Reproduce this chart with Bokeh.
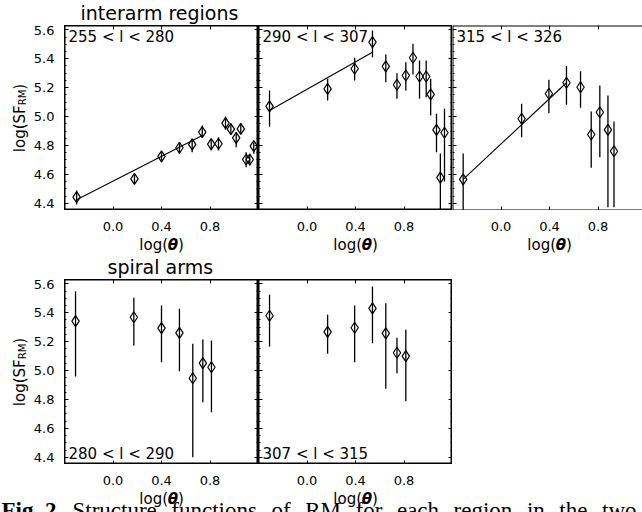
import math
from bokeh.plotting import figure
from bokeh.models import (Range1d, LinearAxis, FixedTicker, Label, PrintfTickFormatter,
                          CustomJSTickFormatter, ColumnDataSource)
from bokeh.layouts import column, row
from bokeh.embed import file_html
from bokeh.resources import INLINE

# ---------------- data ----------------
# interarm 255 < l < 280
x1 = [-0.30, 0.177, 0.40, 0.548, 0.653, 0.736, 0.81, 0.87, 0.928, 0.972, 1.016, 1.054, 1.098, 1.128, 1.161]
y1 = [4.442, 4.569, 4.724, 4.784, 4.807, 4.892, 4.809, 4.812, 4.954, 4.913, 4.853, 4.915, 4.703, 4.703, 4.795]
lo1 = [4.392, 4.535, 4.684, 4.742, 4.753, 4.853, 4.765, 4.765, 4.908, 4.88, 4.788, 4.88, 4.65, 4.661, 4.742]
hi1 = [4.488, 4.604, 4.753, 4.823, 4.846, 4.938, 4.846, 4.857, 5.0, 4.95, 4.892, 4.95, 4.753, 4.742, 4.823]
fit1_x = [-0.30, 0.736]
fit1_y = [4.424, 4.869]

# interarm 290 < l < 307
x2 = [-0.309, 0.17, 0.393, 0.54, 0.65, 0.742, 0.815, 0.874, 0.928, 0.983, 1.02, 1.068, 1.10, 1.134]
y2 = [5.07, 5.192, 5.331, 5.515, 5.347, 5.22, 5.284, 5.407, 5.277, 5.277, 5.153, 4.908, 4.578, 4.888]
lo2 = [4.93, 5.111, 5.25, 5.411, 5.238, 5.123, 5.18, 5.291, 5.123, 5.134, 5.007, 4.753, 4.30, 4.55]
hi2 = [5.18, 5.261, 5.407, 5.596, 5.43, 5.30, 5.376, 5.504, 5.388, 5.388, 5.261, 5.019, 4.744, 5.054]
fit2_x = [-0.309, 0.54]
fit2_y = [5.042, 5.445]

# interarm 315 < l < 326
x3 = [-0.312, 0.17, 0.395, 0.54, 0.656, 0.744, 0.815, 0.882, 0.932]
y3 = [4.565, 4.985, 5.158, 5.234, 5.203, 4.876, 5.03, 4.908, 4.76]
lo3 = [4.30, 4.857, 5.023, 5.082, 5.061, 4.646, 4.719, 4.373, 4.373]
hi3 = [4.744, 5.088, 5.254, 5.349, 5.314, 5.035, 5.215, 5.146, 4.966]
fit3_x = [-0.312, 0.54]
fit3_y = [4.565, 5.234]

# spiral arm 280 < l < 290
x4 = [-0.309, 0.172, 0.40, 0.548, 0.658, 0.741, 0.812]
y4 = [5.342, 5.369, 5.293, 5.261, 4.947, 5.051, 5.023]
lo4 = [4.959, 5.173, 5.058, 4.996, 4.40, 4.781, 4.712]
hi4 = [5.549, 5.504, 5.45, 5.427, 5.185, 5.215, 5.208]

# spiral arm 307 < l < 315
x5 = [-0.309, 0.17, 0.393, 0.54, 0.65, 0.742, 0.815]
y5 = [5.379, 5.268, 5.296, 5.43, 5.257, 5.123, 5.10]
lo5 = [5.167, 5.116, 5.058, 5.189, 4.874, 4.982, 4.788]
hi5 = [5.524, 5.386, 5.45, 5.582, 5.466, 5.227, 5.282]

panel_labels = ["255 < l < 280", "290 < l < 307", "315 < l < 326", "280 < l < 290", "307 < l < 315"]
titles = ["interarm regions", "spiral arms"]
x_ticks = [0.0, 0.4, 0.8]
y_ticks = [4.4, 4.6, 4.8, 5.0, 5.2, 5.4, 5.6]
y_minor = [4.35, 4.45, 4.5, 4.55, 4.65, 4.7, 4.75, 4.85, 4.9, 4.95, 5.05, 5.1, 5.15,
           5.25, 5.3, 5.35, 5.45, 5.5, 5.55]
caption_bold = "Fig. 2."
caption_words = ["Structure", "functions", "of", "RM", "for", "each", "region", "in", "the", "two"]

# ---------------- layout constants ----------------
XMIN, XMAX = -0.4, 1.2
YMIN, YMAX = 4.35, 5.63
FW, FH = 194, 185
PXU = FW / (XMAX - XMIN)
FONT = "DejaVu Sans"
W = 642
LW = 64                 # width of the strip holding the y tick labels
PANEL_X0 = [64, 258, 452]
TOP_H, MID_H, BOT_H = 25, 69, 48


def base_fig(w, h, xr, yr, outline=None, frame=False):
    kw = dict(x_range=Range1d(*xr), y_range=Range1d(*yr), x_axis_location=None,
              y_axis_location=None, title=None, toolbar_location=None, output_backend="svg",
              min_border=0, background_fill_color="white", border_fill_color="white",
              outline_line_color=outline, outline_line_width=2)
    if frame:
        p = figure(frame_width=w, frame_height=h, **kw)
    else:
        p = figure(width=w, height=h, **kw)
    p.xgrid.visible = False
    p.ygrid.visible = False
    return p


def add_axis(p, side, fixed, labels, x_range_name="default", ticks=True, line=False, standoff=10):
    is_x = side in ("above", "below")
    ticker = FixedTicker(ticks=x_ticks) if is_x else FixedTicker(ticks=y_ticks, minor_ticks=y_minor)
    ax = LinearAxis(ticker=ticker, fixed_location=fixed,
                    axis_line_color="black" if line else None, axis_line_width=2,
                    major_tick_in=4, major_tick_out=0, minor_tick_in=2, minor_tick_out=0,
                    major_tick_line_color="black" if ticks else None,
                    minor_tick_line_color="black" if ticks else None,
                    major_label_text_font=FONT, major_label_text_font_size="13px",
                    major_label_text_color="black", major_label_standoff=standoff,
                    x_range_name=x_range_name)
    if labels:
        ax.formatter = PrintfTickFormatter(format="%.1f")
    else:
        ax.formatter = CustomJSTickFormatter(code="return ''")
        ax.major_label_text_font_size = "0px"
    p.add_layout(ax, side)
    return ax


def add_xlabel(p, y_s, x_range_name):
    fs = 15
    cx = (XMIN + XMAX) / 2
    common = dict(x=cx, y=y_s, x_units="data", y_units="screen", text_baseline="middle",
                  text_font=FONT, text_font_size=f"{fs}px", text_color="black",
                  x_range_name=x_range_name)
    p.add_layout(Label(text="log(", text_align="right", x_offset=6.5, **common))
    p.add_layout(Label(text="\u03b8", text_align="center", x_offset=11.4,
                       text_font_style="bold italic", **common))
    p.add_layout(Label(text=")", text_align="left", x_offset=16.4, **common))


def ylabel_strip():
    s = base_fig(LW, FH, (0, LW), (YMIN, YMAX), frame=True)
    add_axis(s, "left", LW, True, ticks=False, standoff=10)
    fs, sfs = 15, 10
    w1, ws, wp = 3.125 * fs, 1.558 * sfs, 0.39 * fs
    L = w1 + ws + wp
    y0 = FH / 2 - L / 2
    xb = 19
    common = dict(x_units="screen", y_units="screen", angle=math.pi / 2, text_align="left",
                  text_baseline="alphabetic", text_font=FONT, text_color="black")
    s.add_layout(Label(x=xb, y=y0, text="log(SF", text_font_size=f"{fs}px", **common))
    s.add_layout(Label(x=xb + 3, y=y0 + w1, text="RM", text_font_size=f"{sfs}px", **common))
    s.add_layout(Label(x=xb, y=y0 + w1 + ws, text=")", text_font_size=f"{fs}px", **common))
    return s


def panel(xs, ys, lo, hi, fx, fy, text, text_top, fw=FW, right=True):
    xend = XMIN + fw / PXU
    p = base_fig(fw, FH, (XMIN, xend), (YMIN, YMAX), outline="black" if right else None, frame=True)
    line = not right
    add_axis(p, "left", XMIN, False, line=line)
    if right:
        add_axis(p, "right", xend, False)
    add_axis(p, "above", YMAX, False, line=line)
    add_axis(p, "below", YMIN, False, line=line)
    src = ColumnDataSource(dict(x=xs, y=ys, lo=lo, hi=hi))
    p.segment(x0="x", y0="lo", x1="x", y1="hi", source=src, line_color="black", line_width=1.3)
    p.scatter("x", "y", source=src, marker="diamond", size=11, fill_color=None,
              line_color="black", line_width=1.2)
    if fx is not None:
        p.line(fx, fy, line_color="black", line_width=1.1)
    ly = FH - 11 if text_top else 11
    p.add_layout(Label(x=4, y=ly, x_units="screen", y_units="screen", text=text,
                       text_font=FONT, text_font_size="15px", text_color="black",
                       text_baseline="alphabetic"))
    return p


def tick_strip(h, x0s):
    s = base_fig(W, h, (0, W), (0, h))
    s.extra_x_ranges = {f"p{i}": Range1d(XMIN - x0 / PXU, XMIN + (W - x0) / PXU)
                        for i, x0 in enumerate(x0s)}
    for i in range(len(x0s)):
        add_axis(s, "below", h, True, x_range_name=f"p{i}", ticks=False, standoff=11)
        add_xlabel(s, h - 34, f"p{i}")
    return s


# top strip: title
top = base_fig(W, TOP_H, (0, W), (0, TOP_H))
top.add_layout(Label(x=80, y=12.5, x_units="screen", y_units="screen", text=titles[0],
                     text_font=FONT, text_font_size="19px", text_color="black",
                     text_baseline="alphabetic"))

p1 = panel(x1, y1, lo1, hi1, fit1_x, fit1_y, panel_labels[0], True)
p2 = panel(x2, y2, lo2, hi2, fit2_x, fit2_y, panel_labels[1], True)
p3 = panel(x3, y3, lo3, hi3, fit3_x, fit3_y, panel_labels[2], True, fw=W - 452, right=False)

mid = tick_strip(MID_H, PANEL_X0)
mid.add_layout(Label(x=107, y=13, x_units="screen", y_units="screen", text=titles[1],
                     text_font=FONT, text_font_size="19px", text_color="black",
                     text_baseline="alphabetic"))

p4 = panel(x4, y4, lo4, hi4, None, None, panel_labels[3], False)
p5 = panel(x5, y5, lo5, hi5, None, None, panel_labels[4], False)

bot = tick_strip(BOT_H, PANEL_X0[:2])
CFS = 23
bot.add_layout(Label(x=1, y=2, x_units="screen", y_units="screen", text=caption_bold,
                     text_font="Liberation Serif", text_font_style="bold",
                     text_font_size=f"{CFS}px", text_color="black", text_baseline="alphabetic"))
em = {"Structure": 3.666, "functions": 3.722, "of": 0.833, "RM": 1.556, "for": 1.166,
      "each": 1.832, "region": 2.555, "in": 0.778, "the": 1.222, "two": 1.5}
start, end = 72, 636
total = sum(em[w] for w in caption_words) * CFS
gap = (end - start - total) / (len(caption_words) - 1)
xpos = start
for wd in caption_words:
    bot.add_layout(Label(x=xpos, y=2, x_units="screen", y_units="screen", text=wd,
                         text_font="Liberation Serif", text_font_size=f"{CFS}px",
                         text_color="black", text_baseline="alphabetic"))
    xpos += em[wd] * CFS + gap

layout = column(top,
                row(ylabel_strip(), p1, p2, p3),
                mid,
                row(ylabel_strip(), p4, p5),
                bot)
open("out.html", "w").write(file_html(layout, INLINE))
